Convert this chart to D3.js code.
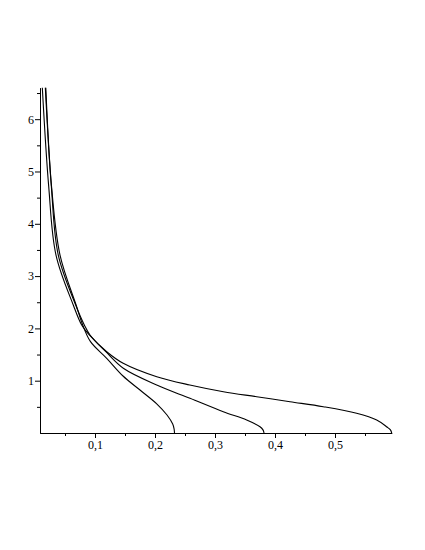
<!DOCTYPE html>
<html>
<head>
<meta charset="utf-8">
<script src="https://cdn.jsdelivr.net/npm/d3@7"></script>
<style>
  body { margin: 0; background: #fff; }
  svg { display: block; }
  .axis text { font-family: "Liberation Serif", "Times New Roman", serif; font-size: 12px; fill: #000; }
  .axis path, .axis line { stroke: #000; }
</style>
</head>
<body>
<svg id="chart" width="425" height="550"></svg>
<script>
// values (y ascending, x = horizontal value)
var curveA_y = [0, 0.08, 0.172, 0.344, 0.554, 0.822, 1.09, 1.428, 1.746, 2.065, 2.447, 3.40, 4.72, 6.6]
var curveA_x = [0.2325, 0.2318, 0.2295, 0.22, 0.2033, 0.175, 0.1467, 0.1195, 0.0925, 0.0795, 0.0685, 0.0417, 0.0275, 0.018]

var curveB_y = [0, 0.06, 0.12, 0.249, 0.407, 0.663, 0.918, 1.237, 1.554, 1.874, 2.065, 2.447, 3.40, 4.72, 6.6]
var curveB_x = [0.3817, 0.380, 0.375, 0.3528, 0.3138, 0.2583, 0.2028, 0.1472, 0.118, 0.0917, 0.0822, 0.0678, 0.0388, 0.0272, 0.0172]

var curveC_y = [0, 0.06, 0.12, 0.249, 0.377, 0.503, 0.598, 0.694, 0.79, 0.918, 1.076, 1.333, 1.554, 1.874, 2.065, 2.447, 3.40, 4.72, 6.6]
var curveC_x = [0.5945, 0.5924, 0.586, 0.5695, 0.536, 0.4805, 0.425, 0.3695, 0.314, 0.258, 0.203, 0.147, 0.1195, 0.0905, 0.0778, 0.0638, 0.035, 0.0228, 0.0122]

var xMajor = [0.1, 0.2, 0.3, 0.4, 0.5]
var xMinor = [0.05, 0.15, 0.25, 0.35, 0.45, 0.55]
var yMajor = [1, 2, 3, 4, 5, 6]
var yMinor = [0.5, 1.5, 2.5, 3.5, 4.5, 5.5, 6.5]

var xDomain = [0.00833, 0.5945]
var yDomain = [0, 6.6]

var plotLeft = 40, plotRight = 391.7, plotTop = 87.8, plotBottom = 433

var svg = d3.select("#chart")

var x = d3.scaleLinear().domain(xDomain).range([plotLeft, plotRight])
var y = d3.scaleLinear().domain(yDomain).range([plotBottom, plotTop])

function comma(d) { return String(d).replace(".", ",") }

// minor ticks first
svg.append("g")
  .attr("class", "axis")
  .attr("transform", "translate(0," + plotBottom + ")")
  .call(d3.axisBottom(x).tickValues(xMinor).tickSize(3).tickSizeOuter(0).tickFormat(""))

svg.append("g")
  .attr("class", "axis")
  .attr("transform", "translate(" + plotLeft + ",0)")
  .call(d3.axisLeft(y).tickValues(yMinor).tickSize(3).tickSizeOuter(0).tickFormat(""))

// major ticks with labels
svg.append("g")
  .attr("class", "axis")
  .attr("transform", "translate(0," + plotBottom + ")")
  .call(d3.axisBottom(x).tickValues(xMajor).tickSize(5).tickPadding(2).tickSizeOuter(0).tickFormat(comma))

svg.append("g")
  .attr("class", "axis")
  .attr("transform", "translate(" + plotLeft + ",0)")
  .call(d3.axisLeft(y).tickValues(yMajor).tickSize(5).tickPadding(1).tickSizeOuter(0).tickFormat(comma))

var line = d3.line()
  .x(function(d) { return x(d[0]) })
  .y(function(d) { return y(d[1]) })
  .curve(d3.curveCatmullRom.alpha(0.5))

function pairs(xs, ys) {
  return ys.map(function(v, i) { return [xs[i], v] })
}

var curves = [pairs(curveA_x, curveA_y), pairs(curveB_x, curveB_y), pairs(curveC_x, curveC_y)]

svg.selectAll("path.curve")
  .data(curves)
  .enter().append("path")
  .attr("class", "curve")
  .attr("d", line)
  .attr("fill", "none")
  .attr("stroke", "#000")
  .attr("stroke-width", 1.1)
</script>
</body>
</html>
